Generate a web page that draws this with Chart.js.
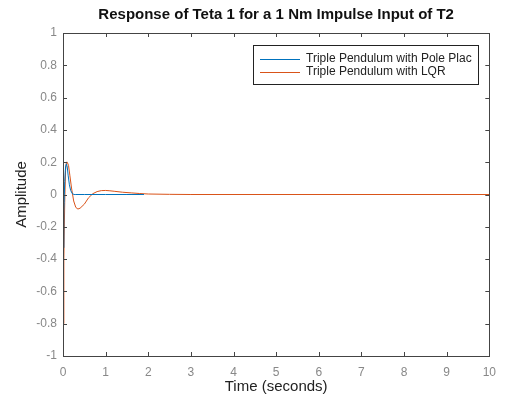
<!DOCTYPE html>
<html><head><meta charset="utf-8">
<script src="https://cdn.jsdelivr.net/npm/chart.js@4/dist/chart.umd.min.js"></script>
<style>html,body{margin:0;padding:0;background:#fff}#wrap{width:505px;height:402px}</style>
</head><body><div id="wrap"><canvas id="c" width="505" height="402"></canvas></div>
<script>
const titleText = "Response of Teta 1 for a 1 Nm Impulse Input of T2";
const xLabel = "Time (seconds)";
const yLabel = "Amplitude";
const seriesNames = ["Triple Pendulum with Pole Plac", "Triple Pendulum with LQR"];
const xTicks = [0,1,2,3,4,5,6,7,8,9,10];
const yTicks = [-1,-0.8,-0.6,-0.4,-0.2,0,0.2,0.4,0.6,0.8,1];

const poleTime = [0, 0.02, 0.04, 0.06, 0.08, 0.1, 0.12, 0.15, 0.18, 0.22, 0.26, 0.3, 0.5, 1.0, 1.5, 1.9];
const poleVals = [-0.33, -0.1, 0.08, 0.17, 0.19, 0.17, 0.12, 0.06, 0.025, 0.005, 0, 0, 0, 0, 0, 0];

const lqrTime = [0, 0.02, 0.04, 0.06, 0.08, 0.1, 0.13, 0.16, 0.2, 0.25, 0.3, 0.35, 0.4, 0.5, 0.6, 0.7, 0.8, 0.9, 1.0, 1.1, 1.2, 1.4, 1.6, 1.8, 2.0, 2.5, 3.0, 10];
const lqrVals = [-0.8, -0.4, -0.05, 0.15, 0.2, 0.2, 0.18, 0.12, 0.04, -0.04, -0.08, -0.09, -0.085, -0.06, -0.02, 0.005, 0.018, 0.024, 0.025, 0.023, 0.02, 0.014, 0.01, 0.006, 0.003, 0.001, 0, 0];

const colors = ["#0072BD", "#D95319"];
const FONT = "'Liberation Sans', Arial, sans-serif";

function pts(t, v){ return t.map((x,i)=>({x:x, y:v[i]})); }

const boxPlugin = {
  id: 'matlabBox',
  afterDraw(chart){
    const ctx = chart.ctx, a = chart.chartArea;
    const xs = chart.scales.x, ys = chart.scales.y;
    ctx.save();
    ctx.strokeStyle = '#444';
    ctx.lineWidth = 1;
    ctx.strokeRect(Math.round(a.left)+0.5, Math.round(a.top)+0.5, Math.round(a.right-a.left), Math.round(a.bottom-a.top));
    const L = 4;
    ctx.beginPath();
    xTicks.forEach(v=>{
      const px = Math.round(xs.getPixelForValue(v))+0.5;
      ctx.moveTo(px, a.bottom); ctx.lineTo(px, a.bottom-L);
      ctx.moveTo(px, a.top); ctx.lineTo(px, a.top+L);
    });
    yTicks.forEach(v=>{
      const py = Math.round(ys.getPixelForValue(v))+0.5;
      ctx.moveTo(a.left, py); ctx.lineTo(a.left+L, py);
      ctx.moveTo(a.right, py); ctx.lineTo(a.right-L, py);
    });
    ctx.stroke();
    // title
    ctx.fillStyle = '#111';
    ctx.font = "bold 15px " + FONT;
    ctx.textAlign = 'center'; ctx.textBaseline = 'middle';
    ctx.fillText(titleText, (a.left+a.right)/2, 15);
    // axis labels
    ctx.font = "15px " + FONT;
    ctx.fillStyle = '#222';
    ctx.fillText(xLabel, (a.left+a.right)/2, 387);
    ctx.save();
    ctx.translate(22, (a.top+a.bottom)/2);
    ctx.rotate(-Math.PI/2);
    ctx.fillText(yLabel, 0, 0);
    ctx.restore();
    // legend
    const lx = 253, ly = 45, lw = 225, lh = 39;
    ctx.fillStyle = '#fff';
    ctx.fillRect(lx, ly, lw, lh);
    ctx.strokeStyle = '#222';
    ctx.strokeRect(lx+0.5, ly+0.5, lw, lh);
    ctx.font = "12px " + FONT;
    ctx.textAlign = 'left';
    seriesNames.forEach((n,i)=>{
      const yy = ly + 14 + i*13;
      ctx.strokeStyle = colors[i];
      ctx.beginPath(); ctx.moveTo(260, yy+0.5); ctx.lineTo(300, yy+0.5); ctx.stroke();
      ctx.fillStyle = '#222';
      ctx.fillText(n, 306, yy);
    });
    ctx.restore();
  }
};

new Chart(document.getElementById('c'), {
  type: 'scatter',
  data: {
    datasets: [
      {label: seriesNames[0], data: pts(poleTime, poleVals), showLine: true, borderColor: colors[0], borderWidth: 1, pointRadius: 0, tension: 0},
      {label: seriesNames[1], data: pts(lqrTime, lqrVals), showLine: true, borderColor: colors[1], borderWidth: 1, pointRadius: 0, tension: 0}
    ]
  },
  options: {
    responsive: false,
    animation: false,
    layout: {padding: {left: 0, right: 10, top: 33, bottom: 0}},
    plugins: {legend: {display: false}, title: {display: false}, tooltip: {enabled: false}},
    scales: {
      x: {
        type: 'linear', min: 0, max: 10,
        afterBuildTicks: s => { s.ticks = xTicks.map(v=>({value:v})); },
        afterFit: s => { s.height = 46; },
        grid: {display: false, drawTicks: false},
        border: {display: false},
        ticks: {padding: 9, color: '#888', font: {family: FONT, size: 12}, maxRotation: 0}
      },
      y: {
        type: 'linear', min: -1, max: 1,
        afterBuildTicks: s => { s.ticks = yTicks.map(v=>({value:v})); },
        afterFit: s => { s.width = 63; },
        grid: {display: false, drawTicks: false},
        border: {display: false},
        ticks: {padding: 6, color: '#888', font: {family: FONT, size: 12},
          callback: v => String(Math.round(v*10)/10)}
      }
    }
  },
  plugins: [boxPlugin]
});
</script></body></html>
